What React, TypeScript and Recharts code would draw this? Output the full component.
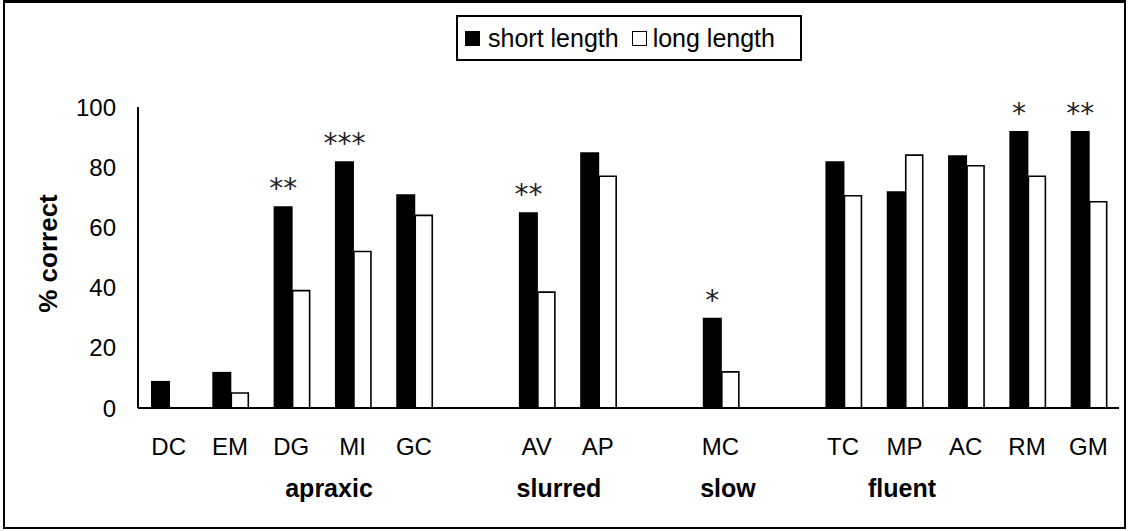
import { BarChart, Bar, XAxis, YAxis, LabelList } from 'recharts';

const categories = ['DC', 'EM', 'DG', 'MI', 'GC', '', 'AV', 'AP', '', 'MC', '', 'TC', 'MP', 'AC', 'RM', 'GM'];
const shortLength = [9, 12, 67, 82, 71, null, 65, 85, null, 30, null, 82, 72, 84, 92, 92];
const longLength = [0, 5, 39, 52, 64, null, 38.5, 77, null, 12, null, 70.5, 84, 80.5, 77, 68.5];
const significance = ['', '', '**', '***', '', '', '**', '', '', '*', '', '', '', '', '*', '**'];
const yTicks = [0, 20, 40, 60, 80, 100];
const seriesNames = ['short length', 'long length'];
const groups = ['apraxic', 'slurred', 'slow', 'fluent'];

const data = categories.map((name, i) => ({
  name,
  short: shortLength[i],
  long: longLength[i],
  sig: significance[i],
}));

// x centre of each group caption, in page pixels
const groupX = [329, 559, 728, 902];

const font = '"Liberation Sans", Arial, sans-serif';

function renderSig(props: any) {
  const { x, y, width, value } = props;
  if (!value) return null;
  return (
    <text
      x={x + width / 2}
      y={y - 8}
      textAnchor="middle"
      fontFamily='"DejaVu Sans", sans-serif'
      fontSize={28}
      fill="#222"
    >
      {value}
    </text>
  );
}

function renderYLabel(props: any) {
  const { viewBox } = props;
  const x = viewBox.x - 21;
  const y = viewBox.y + viewBox.height / 2 - 4;
  return (
    <text
      x={x}
      y={y}
      transform={`rotate(-90, ${x}, ${y})`}
      textAnchor="middle"
      fontFamily={font}
      fontWeight="bold"
      fontSize={26}
      fill="#000"
    >
      % correct
    </text>
  );
}

export default function App() {
  return (
    <div style={{ position: 'absolute', left: 0, top: 0, width: 1128, height: 531, background: '#fff' }}>
      <div
        style={{
          position: 'absolute',
          left: 3,
          top: 0,
          width: 1123,
          height: 529,
          border: '2px solid #000',
          borderTopWidth: 3,
          boxSizing: 'border-box',
        }}
      />
      <div
        style={{
          position: 'absolute',
          left: 456,
          top: 15,
          width: 346,
          height: 46,
          border: '2px solid #000',
          boxSizing: 'border-box',
          display: 'flex',
          alignItems: 'center',
          paddingLeft: 7,
          fontFamily: font,
          fontSize: 25,
          color: '#000',
          whiteSpace: 'nowrap',
        }}
      >
        <span style={{ width: 15, height: 15, background: '#000', display: 'inline-block', marginRight: 8 }} />
        <span style={{ marginRight: 13 }}>{seriesNames[0]}</span>
        <span
          style={{
            width: 15,
            height: 15,
            background: '#fff',
            border: '1.5px solid #000',
            boxSizing: 'border-box',
            display: 'inline-block',
            marginRight: 6,
          }}
        />
        <span>{seriesNames[1]}</span>
      </div>
      <BarChart
        width={1128}
        height={531}
        data={data}
        margin={{ top: 107, right: 9, bottom: 93, left: 78 }}
        barGap={0}
        style={{ position: 'absolute', left: 0, top: 0 }}
      >
        <XAxis
          dataKey="name"
          height={30}
          interval={0}
          axisLine={{ stroke: '#000', strokeWidth: 2 }}
          tickLine={false}
          tickSize={0}
          tickMargin={30}
          tick={{ fill: '#000', fontSize: 24, fontFamily: font }}
        />
        <YAxis
          width={60}
          domain={[0, 100]}
          ticks={yTicks}
          axisLine={{ stroke: '#000', strokeWidth: 2 }}
          tickLine={false}
          tickSize={0}
          tickMargin={22}
          tick={{ fill: '#000', fontSize: 24, fontFamily: font }}
          label={{ content: renderYLabel }}
        />
        <Bar dataKey="short" name={seriesNames[0]} fill="#000" barSize={19} isAnimationActive={false}>
          <LabelList dataKey="sig" content={renderSig} />
        </Bar>
        <Bar
          dataKey="long"
          name={seriesNames[1]}
          fill="#fff"
          stroke="#000"
          strokeWidth={1.6}
          barSize={17}
          isAnimationActive={false}
        />
      </BarChart>
      {groups.map((g, i) => (
        <div
          key={g}
          style={{
            position: 'absolute',
            left: groupX[i] - 100,
            width: 200,
            top: 474,
            textAlign: 'center',
            fontFamily: font,
            fontWeight: 'bold',
            fontSize: 25,
            color: '#000',
          }}
        >
          {g}
        </div>
      ))}
    </div>
  );
}
